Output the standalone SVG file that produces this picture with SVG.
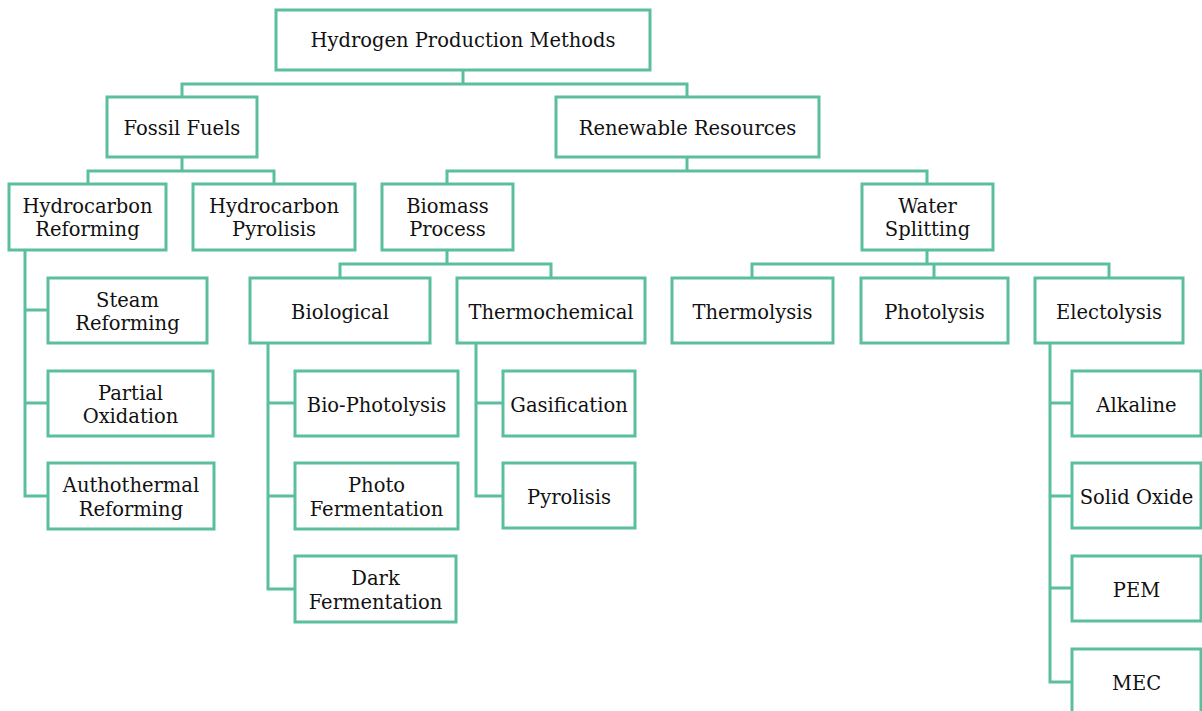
<svg xmlns="http://www.w3.org/2000/svg" width="1202" height="711" viewBox="0 0 1202 711">
<style>
rect.n{fill:#fff;stroke:#5bbf9f;stroke-width:3}
.c path{fill:none;stroke:#5bbf9f;stroke-width:3}
.t text{fill:#111;text-anchor:middle}
</style>
<rect width="1202" height="711" fill="#fff"/>
<g class="c" id="connectors">
<path d="M463 70V84M182 97V84H687V97"/>
<path d="M182 157V171M88 184V171H274V184"/>
<path d="M687 157V171M447 184V171H927V184"/>
<path d="M447 250V264M340 277V264H551V277"/>
<path d="M927 250V264M752 277V264H1109V277M934 264V277"/>
<path d="M25 250V496H48M25 310H48M25 403H48"/>
<path d="M268 343V589H295M268 403H295M268 496H295"/>
<path d="M476 343V496H503M476 403H503"/>
<path d="M1050 343V682H1072M1050 403H1072M1050 496H1072M1050 588H1072"/>
</g>
<g class="t" font-family="'DejaVu Serif', 'Liberation Serif', serif" font-size="19.5">
<g id="n-root"><rect class="n" x="276" y="10" width="374" height="60"/><text x="463" y="47">Hydrogen Production Methods</text></g>
<g id="n-fossil"><rect class="n" x="107" y="97" width="150" height="60"/><text x="182" y="135">Fossil Fuels</text></g>
<g id="n-renew"><rect class="n" x="556" y="97" width="263" height="60"/><text x="687.5" y="135">Renewable Resources</text></g>
<g id="n-hcref"><rect class="n" x="9" y="184" width="157" height="66"/><text x="87.5" y="213">Hydrocarbon</text><text x="87.5" y="236">Reforming</text></g>
<g id="n-hcpyr"><rect class="n" x="193" y="184" width="162" height="66"/><text x="274" y="213">Hydrocarbon</text><text x="274" y="236">Pyrolisis</text></g>
<g id="n-biomass"><rect class="n" x="382" y="184" width="131" height="66"/><text x="447.5" y="213">Biomass</text><text x="447.5" y="236">Process</text></g>
<g id="n-water"><rect class="n" x="862" y="184" width="131" height="66"/><text x="927.5" y="213">Water</text><text x="927.5" y="236">Splitting</text></g>
<g id="n-steam"><rect class="n" x="48" y="278" width="159" height="65"/><text x="127.5" y="306.5">Steam</text><text x="127.5" y="330">Reforming</text></g>
<g id="n-partial"><rect class="n" x="48" y="371" width="165" height="65"/><text x="130.5" y="399.5">Partial</text><text x="130.5" y="423">Oxidation</text></g>
<g id="n-auto"><rect class="n" x="48" y="463" width="166" height="66"/><text x="131" y="492">Authothermal</text><text x="131" y="515.5">Reforming</text></g>
<g id="n-bio"><rect class="n" x="250" y="278" width="180" height="65"/><text x="340" y="318.5">Biological</text></g>
<g id="n-thermo"><rect class="n" x="457" y="278" width="188" height="65"/><text x="551" y="318.5">Thermochemical</text></g>
<g id="n-thermolysis"><rect class="n" x="672" y="278" width="161" height="65"/><text x="752.5" y="318.5">Thermolysis</text></g>
<g id="n-photolysis"><rect class="n" x="861" y="278" width="147" height="65"/><text x="934.5" y="318.5">Photolysis</text></g>
<g id="n-electo"><rect class="n" x="1035" y="278" width="148" height="65"/><text x="1109" y="318.5">Electolysis</text></g>
<g id="n-biophoto"><rect class="n" x="295" y="371" width="163" height="65"/><text x="376.5" y="411.5">Bio-Photolysis</text></g>
<g id="n-photoferm"><rect class="n" x="295" y="463" width="163" height="66"/><text x="376.5" y="492">Photo</text><text x="376.5" y="515.5">Fermentation</text></g>
<g id="n-darkferm"><rect class="n" x="295" y="556" width="161" height="66"/><text x="375.5" y="585">Dark</text><text x="375.5" y="608.5">Fermentation</text></g>
<g id="n-gas"><rect class="n" x="503" y="371" width="132" height="65"/><text x="569" y="411.5">Gasification</text></g>
<g id="n-pyro"><rect class="n" x="503" y="463" width="132" height="65"/><text x="569" y="503.5">Pyrolisis</text></g>
<g id="n-alk"><rect class="n" x="1072" y="371" width="129" height="65"/><text x="1136.5" y="411.5">Alkaline</text></g>
<g id="n-solid"><rect class="n" x="1072" y="463" width="129" height="65"/><text x="1136.5" y="503.5">Solid Oxide</text></g>
<g id="n-pem"><rect class="n" x="1072" y="556" width="129" height="65"/><text x="1136.5" y="596.5">PEM</text></g>
<g id="n-mec"><rect class="n" x="1072" y="649" width="129" height="70"/><text x="1136.5" y="689.5">MEC</text></g>
</g>
</svg>
